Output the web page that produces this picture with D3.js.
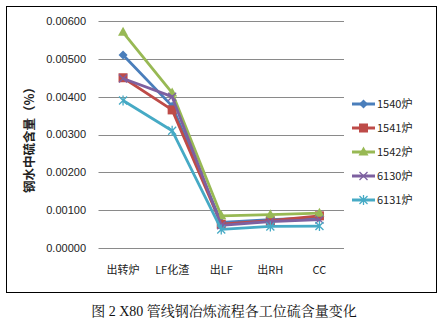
<!DOCTYPE html>
<html><head><meta charset="utf-8">
<script src="https://cdn.jsdelivr.net/npm/d3@7"></script>
<style>body{margin:0;background:#fff}svg{display:block}</style>
</head><body>
<script>
const categories = ["出转炉","LF化渣","出LF","出RH","CC"];
const seriesNames = ["1540炉","1541炉","1542炉","6130炉","6131炉"];
const s1540 = [0.00510,0.00375,0.00068,0.00075,0.00080];
const s1541 = [0.00450,0.00365,0.00063,0.00072,0.00085];
const s1542 = [0.00570,0.00410,0.00085,0.00088,0.00092];
const s6130 = [0.00448,0.00400,0.00060,0.00070,0.00075];
const s6131 = [0.00390,0.00310,0.00049,0.00057,0.00058];
const yTicks = [0,0.001,0.002,0.003,0.004,0.005,0.006];
const colors = ["#4A7EBB","#BE4B48","#98B954","#7D60A0","#46AAC5"];
const markers = ["diamond","square","triangle","x","star"];
const series = [s1540,s1541,s1542,s6130,s6131];

const W=442,H=322;
const svg=d3.select("body").append("svg").attr("width",W).attr("height",H);
svg.append("rect").attr("x",6.5).attr("y",6.5).attr("width",430).attr("height",286)
  .attr("fill","#fff").attr("stroke","#000").attr("stroke-width",1);

const x=d3.scaleBand().domain(categories).range([98.5,344]);
const y=d3.scaleLinear().domain([0,0.006]).range([248,21]);

const font="'Liberation Sans','DejaVu Sans',sans-serif";
// grid
svg.append("g").selectAll("line").data(yTicks).join("line")
  .attr("x1",98.5).attr("x2",344).attr("y1",d=>Math.round(y(d))+0.5).attr("y2",d=>Math.round(y(d))+0.5)
  .attr("stroke","#8a8a8a").attr("stroke-width",1);
// y labels
svg.append("g").selectAll("text").data(yTicks).join("text")
  .attr("x",86).attr("y",d=>y(d)).attr("dy","0.35em").attr("text-anchor","end")
  .attr("font-family",font).attr("font-size",11).attr("fill","#222")
  .text(d=>d3.format(".5f")(d));
// x labels
svg.append("g").selectAll("text").data(categories).join("text")
  .attr("x",d=>x(d)+x.bandwidth()/2).attr("y",270).attr("dy","0.35em").attr("text-anchor","middle")
  .attr("font-family","'Noto Sans CJK SC',sans-serif").attr("font-size",11).attr("fill","#222")
  .text(d=>d);
// y title
svg.append("text").attr("transform","translate(30,137) rotate(-90)")
  .attr("text-anchor","middle").attr("dy","0.35em")
  .attr("font-family","'Noto Sans CJK SC',sans-serif").attr("font-size",12.5).attr("font-weight","bold").attr("fill","#222")
  .text("钢水中硫含量（%）");

function marker(g,type,color,cx,cy){
  const s=4.5;
  if(type==="diamond"){
    g.append("path").attr("d",`M${cx},${cy-s}L${cx+s},${cy}L${cx},${cy+s}L${cx-s},${cy}Z`).attr("fill",color);
  }else if(type==="square"){
    g.append("rect").attr("x",cx-4.5).attr("y",cy-4.5).attr("width",9).attr("height",9).attr("fill",color);
  }else if(type==="triangle"){
    g.append("path").attr("d",`M${cx},${cy-5.5}L${cx+5},${cy+3.5}L${cx-5},${cy+3.5}Z`).attr("fill",color);
  }else if(type==="x"){
    g.append("path").attr("d",`M${cx-4},${cy-4}L${cx+4},${cy+4}M${cx-4},${cy+4}L${cx+4},${cy-4}`).attr("stroke",color).attr("stroke-width",1.3);
  }else if(type==="star"){
    g.append("path").attr("d",`M${cx-4},${cy-4}L${cx+4},${cy+4}M${cx-4},${cy+4}L${cx+4},${cy-4}M${cx},${cy-5}L${cx},${cy+5}`).attr("stroke",color).attr("stroke-width",1.3);
  }
}

const line=d3.line().x((d,i)=>x(categories[i])+x.bandwidth()/2).y(d=>y(d));
series.forEach((s,k)=>{
  const g=svg.append("g");
  g.append("path").datum(s).attr("d",line).attr("fill","none").attr("stroke",colors[k]).attr("stroke-width",2.8).attr("stroke-linejoin","round");
  s.forEach((v,i)=>marker(g,markers[k],colors[k],x(categories[i])+x.bandwidth()/2,y(v)));
});

// legend
const legY=[104,128,152,176,200];
seriesNames.forEach((n,k)=>{
  const g=svg.append("g");
  g.append("line").attr("x1",352).attr("x2",375).attr("y1",legY[k]).attr("y2",legY[k]).attr("stroke",colors[k]).attr("stroke-width",3);
  marker(g,markers[k],colors[k],363.5,legY[k]);
  g.append("text").attr("x",377).attr("y",legY[k]).attr("dy","0.35em")
    .attr("font-family","'Noto Sans CJK SC',sans-serif").attr("font-size",11).attr("fill","#222").text(n);
});

// caption
svg.append("text").attr("x",224).attr("y",311).attr("dy","0.35em").attr("text-anchor","middle")
  .attr("font-family","'Liberation Serif','Noto Serif CJK SC','Noto Sans CJK SC',serif").attr("font-size",14).attr("fill","#111")
  .text("图 2 X80 管线钢冶炼流程各工位硫含量变化");
</script>
</body></html>
